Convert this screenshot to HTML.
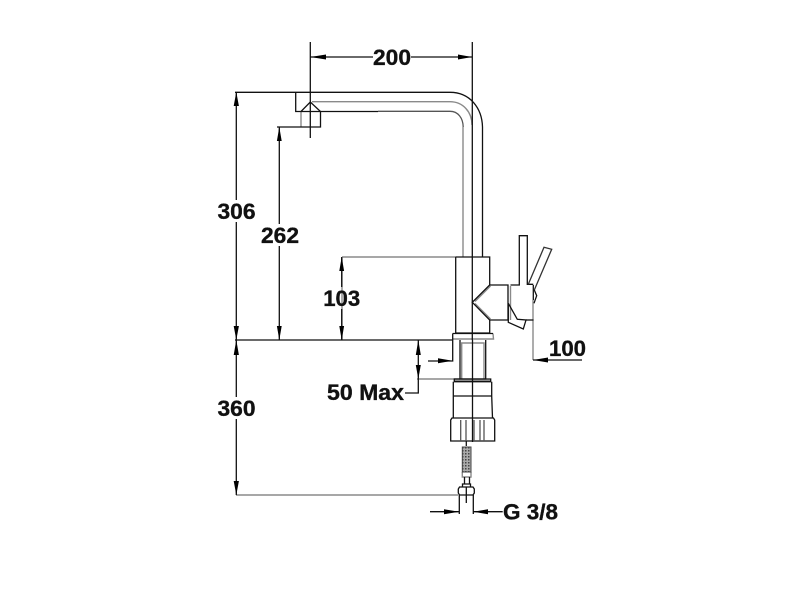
<!DOCTYPE html>
<html><head><meta charset="utf-8"><style>
html,body{margin:0;padding:0;background:#fff}
svg{display:block}
text{font-family:"Liberation Sans",sans-serif;font-weight:bold;font-size:22.5px;fill:#111;text-anchor:middle;stroke:#111;stroke-width:.35}
</style></head><body>
<svg width="802" height="601" viewBox="0 0 802 601" xmlns="http://www.w3.org/2000/svg">
<defs><pattern id="m" width="3" height="3" patternUnits="userSpaceOnUse"><rect width="3" height="3" fill="#aaa"/><rect width="1.5" height="1.5" fill="#444"/></pattern></defs>
<rect width="802" height="601" fill="#fff"/>
<!-- gray lines -->
<g fill="none" stroke="#8a8a8a" stroke-width="1.4">
<path d="M312 101.7H450C463 101.7 472 112 472 125"/>
<path d="M463 127V257"/>
<path d="M342 257H456"/>
<path d="M301 111V127"/>
<path d="M533 300V360"/>
<path d="M490.5 286L475 301.5M490.5 319L475 303.5"/>
<path d="M510.5 286V320"/>
<path d="M493 333.5L493.5 339H452.7"/>
<path d="M461.7 379V343H484V379"/>
<path d="M417 379H460"/>
<path d="M236 495H458"/>
<path d="M462.3 472V477H471V472"/>
<path d="M342 257V340"/>
<path d="M454.3 380.5H490.7"/>
</g>
<!-- black lines -->
<g fill="none" stroke="#111" stroke-width="1.3">
<path d="M310.3 42V138"/>
<path d="M472.3 42V340M472.5 340V442"/>
<path d="M310 57H373M411 57H472"/>
<path d="M235 92.3H450C470 92.3 482 108 482.5 127V257"/>
<path d="M295.7 92.3V111.5H301L310.3 102L320.5 111.5V127H277"/>
<path d="M320.5 111.5H378"/>
<path d="M378 111.3H450C458 111.3 463 118 463.2 127" stroke="#555"/>
<path d="M301 111.5H320"/>
<path d="M236.3 92V200M236.3 222V397M236.3 419V495"/>
<path d="M279.3 127V224M279.3 246V340"/>
<path d="M235 340H452.7"/>
<path d="M341.7 257V287M341.7 309V340"/>
<!-- body -->
<path d="M455.7 257V333M455.7 257H489.7V285L472.3 302.3L489.7 320V333H455.7"/>
<path d="M489.7 285H508V320H489.7"/>
<path d="M510.5 285H519.3V235.7H527.3V284.3H533.3"/>
<path d="M528.3 284.3L544 247.3L551.7 249.3L534.3 290" stroke="#333"/>
<path d="M534.3 290L536.7 295.7L534 303.3"/>
<path d="M533.3 285V300"/>
<path d="M508.3 303.3L517.3 319.3L526 320L523.3 329L508.3 322.3V303.3"/>
<path d="M526 320H533.5"/>
<path d="M533 360H582"/>
<path d="M452.7 333.5H493M452.7 333.5V361H428"/>
<path d="M460 340V379H485.7V340"/>
<path d="M418.3 340V393H405"/>
<path d="M454.3 379H490.7V381.7H454.3Z"/>
<path d="M453.3 381.7V418M491.7 381.7V396L492.5 418M453.3 396H491.7"/>
<path d="M452 418H493.5L494.7 420V441H450.7V420Z"/>
<path d="M460.7 420V441M466 420V441M474 420V441M480 420V441M484 420V441" stroke="#555"/>
<path d="M466.3 441V446"/>
<path d="M464.5 477V484M469.5 477V484"/>
<path d="M462.5 487V484H470.5V487"/>
<path d="M459.5 487H473L474.3 489V493L473 495H459.5L458.3 493V489Z"/>
<path d="M459.3 495V514M473.3 495V514M466.3 487V503"/>
<path d="M430 511.7H459M473 511.7H502.7"/>
</g>
<path d="M462.3 447H471V472H462.3Z" fill="url(#m)" stroke="#444" stroke-width="1"/>
<!-- arrowheads -->
<g fill="#000">
<path d="M310.3 57L326 54.5V59.5Z"/>
<path d="M472 57L458 54.5V59.5Z"/>
<path d="M236.3 92L233.7 106H238.9Z"/>
<path d="M236.3 340L233.7 326H238.9Z"/>
<path d="M236.3 340L233.7 355H238.9Z"/>
<path d="M236.3 495L233.7 481H238.9Z"/>
<path d="M279.3 127L276.9 141H281.7Z"/>
<path d="M279.3 340L276.9 326H281.7Z"/>
<path d="M341.7 257L339.3 271H344.1Z"/>
<path d="M341.7 340L339.3 326H344.1Z"/>
<path d="M418.3 340L415.8 355H420.8Z"/>
<path d="M418.3 379L415.8 365H420.8Z"/>
<path d="M452.5 360.7L438 358.2V363.2Z"/>
<path d="M533 360L548 357.5V362.5Z"/>
<path d="M459 511.7L444 509.2V514.2Z"/>
<path d="M473.3 511.7L488 509.2V514.2Z"/>
</g>
<!-- labels -->
<text x="392" y="65" textLength="38" lengthAdjust="spacingAndGlyphs">200</text>
<text x="236.5" y="219" textLength="38" lengthAdjust="spacingAndGlyphs">306</text>
<text x="280" y="243" textLength="38" lengthAdjust="spacingAndGlyphs">262</text>
<text x="341.7" y="306" textLength="37" lengthAdjust="spacingAndGlyphs">103</text>
<text x="567.5" y="356" textLength="37" lengthAdjust="spacingAndGlyphs">100</text>
<text x="365.5" y="400" textLength="77" lengthAdjust="spacingAndGlyphs">50 Max</text>
<text x="236.5" y="416" textLength="38" lengthAdjust="spacingAndGlyphs">360</text>
<text x="530.5" y="519.5" textLength="55" lengthAdjust="spacingAndGlyphs">G 3/8</text>
</svg>
</body></html>
